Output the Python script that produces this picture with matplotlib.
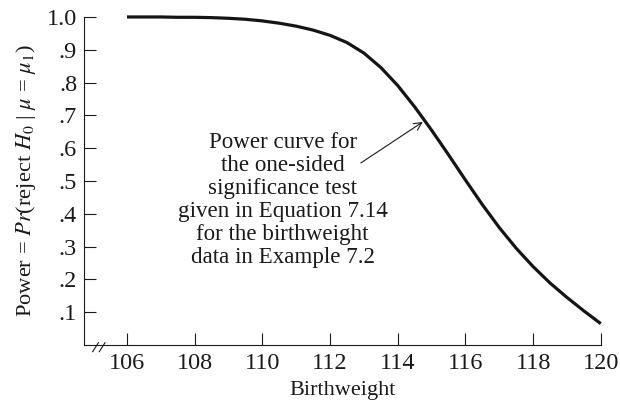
import matplotlib
matplotlib.use("Agg")
import matplotlib.pyplot as plt

plt.rcParams["font.family"] = ["Liberation Serif", "DejaVu Serif"]
plt.rcParams["mathtext.fontset"] = "stix"

# power of the one-sided test, read at half-gram steps of the true mean
birthweight = [106, 106.5, 107, 107.5, 108, 108.5, 109, 109.5, 110, 110.5,
               111, 111.5, 112, 112.5, 113, 113.5, 114, 114.5, 115, 115.5,
               116, 116.5, 117, 117.5, 118, 118.5, 119, 119.5, 120]
power = [1.000, 1.000, 1.000, 0.999, 0.999, 0.998, 0.996, 0.993, 0.988, 0.981,
         0.972, 0.960, 0.944, 0.922, 0.890, 0.846, 0.791, 0.726, 0.655, 0.580,
         0.503, 0.428, 0.358, 0.295, 0.239, 0.189, 0.145, 0.104, 0.065]

xticks = [106, 108, 110, 112, 114, 116, 118, 120]
yticks = [0.1, 0.2, 0.3, 0.4, 0.5, 0.6, 0.7, 0.8, 0.9, 1.0]
ytick_labels = [".1", ".2", ".3", ".4", ".5", ".6", ".7", ".8", ".9", "1.0"]

note = ("Power curve for\nthe one-sided\nsignificance test\n"
        "given in Equation 7.14\nfor the birthweight\ndata in Example 7.2")

fig = plt.figure(figsize=(6.2, 4.09), dpi=100)
ax = fig.add_axes([0.1355, 0.1565, 0.8335, 0.8020])

ax.plot(birthweight, power, color="#151515", lw=2.3, clip_on=False,
        solid_capstyle="butt", solid_joinstyle="round")

ax.set_xlim(104.73, 120)
ax.set_ylim(0, 1.0)
ax.set_xticks(xticks)
ax.set_yticks(yticks)
ax.set_yticklabels(ytick_labels)
ax.tick_params(direction="in", length=8.5, width=0.8, labelsize=17.5, pad=5,
               color="#1a1a1a", labelcolor="#1a1a1a")
ax.tick_params(axis="x", pad=6)

for side in ["top", "right"]:
    ax.spines[side].set_visible(False)
for side in ["left", "bottom"]:
    ax.spines[side].set_linewidth(0.8)
    ax.spines[side].set_color("#1a1a1a")

# break marks on the x axis
for x0 in [0.0168, 0.0296]:
    ax.plot([x0, x0 + 0.011], [-0.0204, 0.007], transform=ax.transAxes,
            color="#1a1a1a", lw=0.8, clip_on=False)

ax.set_xlabel("Birthweight", fontsize=16, labelpad=5, color="#1a1a1a")
ax.set_ylabel(r"Power = $Pr$(reject $H_0$ | $\mu$ = $\mu_1$)", fontsize=16.2,
              labelpad=6, color="#1a1a1a")

# label block and its pointer to the curve
ax.text(110.6, 0.442, note, ha="center", va="center", fontsize=16.6,
        linespacing=1.12, color="#1a1a1a")
ax.annotate("", xy=(114.74, 0.68), xytext=(112.91, 0.555),
            arrowprops=dict(arrowstyle="->", color="#1a1a1a", lw=0.8,
                            shrinkA=0, shrinkB=0, mutation_scale=14))

fig.savefig("out.png", dpi=100)
